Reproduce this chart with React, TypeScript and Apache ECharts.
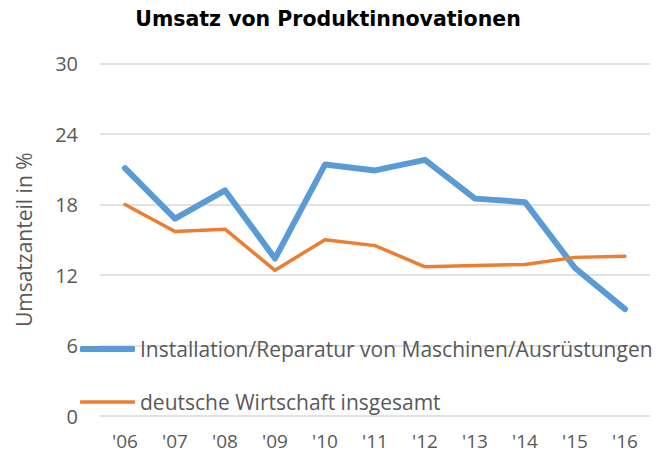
import React, { useEffect, useRef } from "react";
import * as echarts from "echarts";

const categories = ["'06", "'07", "'08", "'09", "'10", "'11", "'12", "'13", "'14", "'15", "'16"];
const installation = [21.1, 16.8, 19.2, 13.4, 21.4, 20.9, 21.8, 18.5, 18.2, 12.6, 9.1];
const gesamt = [18.0, 15.7, 15.9, 12.4, 15.0, 14.5, 12.7, 12.8, 12.9, 13.5, 13.6];
const seriesNames = ["Installation/Reparatur von Maschinen/Ausrüstungen", "deutsche Wirtschaft insgesamt"];
const title = "Umsatz von Produktinnovationen";
const yAxisName = "Umsatzanteil in %";

export default function App() {
  const ref = useRef<HTMLDivElement>(null);
  useEffect(() => {
    if (!ref.current) return;
    const chart = echarts.init(ref.current, null, { renderer: "svg" });
    const font = "'Open Sans', 'Liberation Sans', sans-serif";
    const legendText = { fontFamily: font, fontSize: 21, color: "#595959", lineHeight: 24 };
    chart.setOption({
      animation: false,
      backgroundColor: "#ffffff",
      title: {
        text: title,
        left: "center",
        top: 8,
        padding: 0,
        textStyle: { fontFamily: "'DejaVu Sans', sans-serif", fontWeight: "bold", fontSize: 20.5, color: "#000" },
      },
      grid: { left: 100, right: 6, top: 63.5, bottom: 39, containLabel: false },
      legend: [
        {
          left: 80,
          top: 337,
          padding: 0,
          icon: "roundRect",
          itemWidth: 55,
          itemHeight: 6,
          textStyle: legendText,
          data: [seriesNames[0]],
        },
        {
          left: 80,
          top: 390,
          padding: 0,
          icon: "roundRect",
          itemWidth: 55,
          itemHeight: 3.5,
          textStyle: legendText,
          data: [seriesNames[1]],
        },
      ],
      xAxis: {
        type: "category",
        data: categories,
        boundaryGap: true,
        axisLine: { show: false },
        axisTick: { show: false },
        axisLabel: { fontFamily: font, fontSize: 19, lineHeight: 20, color: "#595959", margin: 15 },
      },
      yAxis: {
        type: "value",
        min: 0,
        max: 30,
        interval: 6,
        name: yAxisName,
        nameLocation: "middle",
        nameGap: 66,
        nameTextStyle: { fontFamily: font, fontSize: 21, color: "#595959" },
        axisLabel: { fontFamily: font, fontSize: 20, color: "#595959", margin: 22 },
        splitLine: { lineStyle: { color: "#D9D9D9", width: 1.5 } },
      },
      series: [
        {
          name: seriesNames[0],
          type: "line",
          data: installation,
          symbol: "none",
          lineStyle: { color: "#5B9BD5", width: 6, cap: "round", join: "round" },
          itemStyle: { color: "#5B9BD5" },
        },
        {
          name: seriesNames[1],
          type: "line",
          data: gesamt,
          symbol: "none",
          lineStyle: { color: "#ED7D31", width: 3.5, cap: "round", join: "round" },
          itemStyle: { color: "#ED7D31" },
        },
      ],
    });
    return () => chart.dispose();
  }, []);
  return <div ref={ref} style={{ width: 656, height: 455, position: "absolute", left: 0, top: 0 }} />;
}
